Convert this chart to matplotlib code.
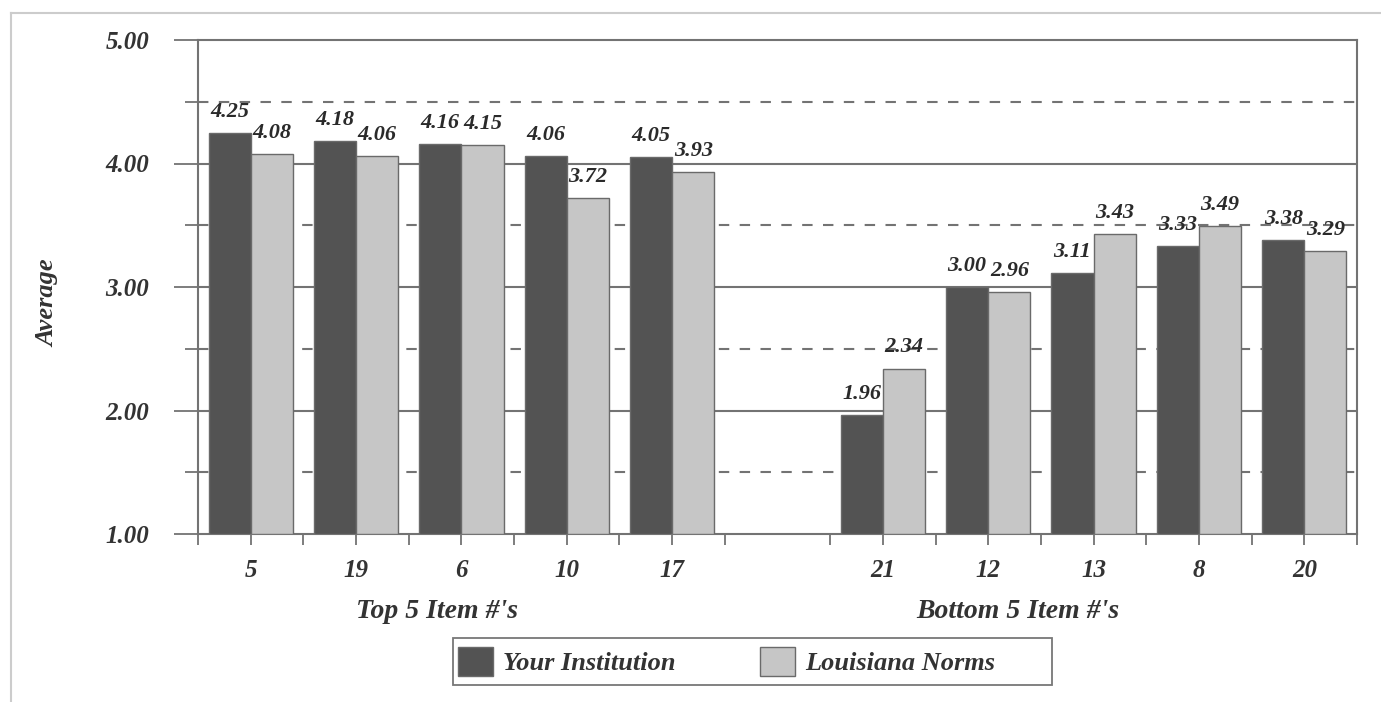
import matplotlib
matplotlib.use("Agg")
import matplotlib.pyplot as plt
from matplotlib.lines import Line2D
from matplotlib.patches import Patch, Rectangle

# item numbers and averages
top_items = ["5", "19", "6", "10", "17"]
top_inst = [4.25, 4.18, 4.16, 4.06, 4.05]
top_norms = [4.08, 4.06, 4.15, 3.72, 3.93]

bottom_items = ["21", "12", "13", "8", "20"]
bottom_inst = [1.96, 3.00, 3.11, 3.33, 3.38]
bottom_norms = [2.34, 2.96, 3.43, 3.49, 3.29]

series_names = ["Your Institution", "Louisiana Norms"]
y_ticks = [1.0, 2.0, 3.0, 4.0, 5.0]

plt.rcParams["font.family"] = ["Liberation Serif", "DejaVu Serif"]
plt.rcParams["font.weight"] = "bold"
plt.rcParams["font.style"] = "italic"

dark = "#535353"
light = "#c6c6c6"
edge = "#6a6a6a"
grid = "#737373"
txt = "#333333"

W, H = 1381, 702
fig = plt.figure(figsize=(W / 100, H / 100), dpi=100)
ax_w = 1357 - 198
ax_h = 534 - 40
ax = fig.add_axes([198 / W, (H - 534) / H, ax_w / W, ax_h / H])

# slots 0-4 top items, slot 5 empty, slots 6-10 bottom items
pos = list(range(5)) + list(range(6, 11))
labels = top_items + bottom_items
inst = top_inst + bottom_inst
norms = top_norms + bottom_norms

w = 0.4
b1 = ax.bar([p - w / 2 for p in pos], [v - 1 for v in inst], w, bottom=1,
            color=dark, edgecolor=edge, linewidth=1, zorder=3)
b2 = ax.bar([p + w / 2 for p in pos], [v - 1 for v in norms], w, bottom=1,
            color=light, edgecolor=edge, linewidth=1, zorder=3)

for bars, vals in ((b1, inst), (b2, norms)):
    for r, v in zip(bars, vals):
        ax.annotate("%.2f" % v, (r.get_x() + r.get_width() / 2, v),
                    xytext=(0, 8), textcoords="offset points",
                    ha="center", va="bottom", fontsize=16, color="#2a2a2a",
                    zorder=5)

ax.set_xlim(-0.5, 10.5)
ax.set_ylim(1, 5)

# gridlines: solid at whole numbers, dashed at halves
for y in [2, 3, 4]:
    ax.axhline(y, color=grid, linewidth=1.5, zorder=1)
for y in [1.5, 2.5, 3.5, 4.5]:
    ax.axhline(y, color=grid, linewidth=1.5, linestyle=(0, (5, 5)), zorder=1)

ax.set_yticks(y_ticks)
ax.set_yticklabels(["%.2f" % t for t in y_ticks], fontsize=18, color=txt)
ax.set_yticks([1.5, 2.5, 3.5, 4.5], minor=True)
ax.tick_params(axis="y", which="major", length=17.3, width=1.3, color=grid, pad=18)
ax.tick_params(axis="y", which="minor", length=9.4, width=1.3, color=grid)

ax.set_xticks(pos)
ax.set_xticklabels(labels, fontsize=18, color=txt)
ax.set_xticks([i + 0.5 for i in range(-1, 11)], minor=True)
ax.tick_params(axis="x", which="major", length=8, width=1.3, color=grid, pad=10)
ax.tick_params(axis="x", which="minor", length=8, width=1.3, color=grid)

for s in ax.spines.values():
    s.set_color(grid)
    s.set_linewidth(1.5)

ax.set_ylabel("Average", fontsize=19, fontweight="bold", color=txt)
ax.yaxis.set_label_coords(-(198 - 59) / ax_w, 1 - (303 - 40) / ax_h)

group_y = -(611 - 534) / ax_h
ax.text(1.77, group_y, "Top 5 Item #'s", transform=ax.get_xaxis_transform(),
        ha="center", va="center", fontsize=20, color=txt)
ax.text(7.28, group_y, "Bottom 5 Item #'s", transform=ax.get_xaxis_transform(),
        ha="center", va="center", fontsize=20, color=txt)

# legend box drawn separately, it is wider than its contents
fig.add_artist(Rectangle((453 / W, 1 - 685 / H), 599 / W, 47 / H, fill=False,
                         edgecolor="#777777", linewidth=1.3))
handles = [Patch(facecolor=dark, edgecolor=edge), Patch(facecolor=light, edgecolor=edge)]
leg = fig.legend(handles, series_names, ncol=2, loc="center left",
                 bbox_to_anchor=(453 / W, 1 - 661.5 / H), fontsize=19,
                 frameon=False, borderaxespad=0, borderpad=0.2,
                 handlelength=1.32, handleheight=1.29, columnspacing=3.2,
                 handletextpad=0.38)
for t in leg.get_texts():
    t.set_color(txt)

# page border lines at left and top
fig.add_artist(Line2D([11 / W, 11 / W], [0, 1 - 13 / H], color="#cccccc", linewidth=1.5))
fig.add_artist(Line2D([11 / W, 1], [1 - 13 / H, 1 - 13 / H], color="#cccccc", linewidth=1.5))

fig.savefig("out.png", dpi=100)
